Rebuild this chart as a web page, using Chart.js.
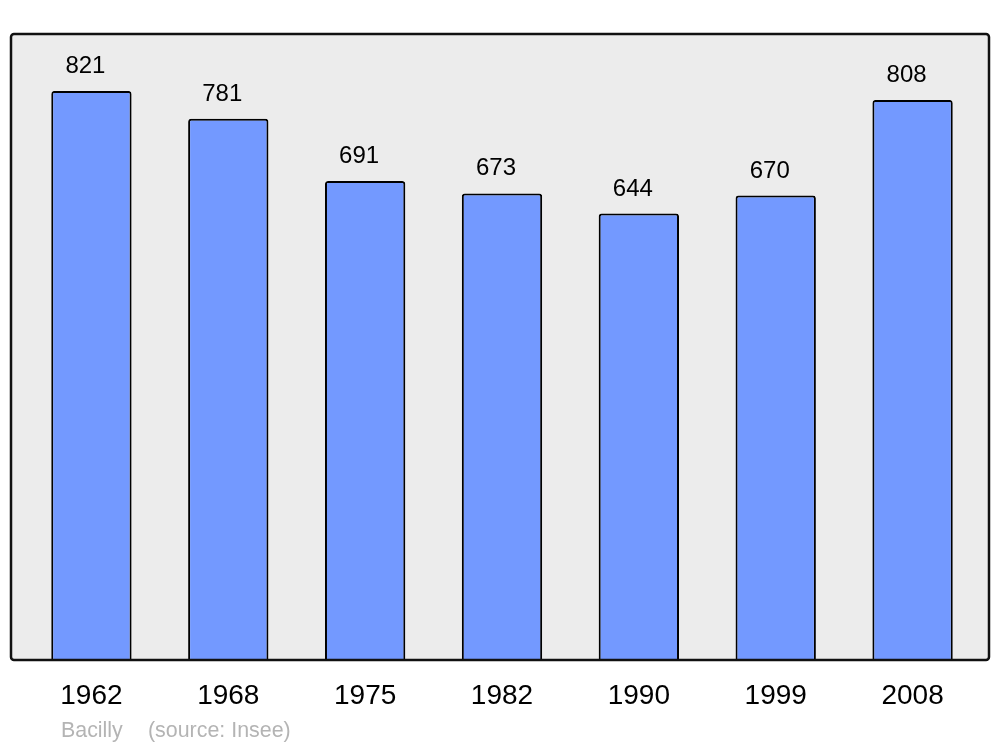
<!DOCTYPE html>
<html><head><meta charset="utf-8">
<script src="https://cdn.jsdelivr.net/npm/chart.js@4/dist/chart.umd.min.js"></script>
<style>html,body{margin:0;padding:0;background:#fff}#wrap{width:1000px;height:747px}</style>
</head><body><div id="wrap"><canvas id="c" width="1000" height="747"></canvas></div>
<script>
const years = ['1962','1968','1975','1982','1990','1999','2008'];
const population = [821, 781, 691, 673, 644, 670, 808];
const commune = 'Bacilly';
const source = '(source: Insee)';

const FONT = '"Liberation Sans", Arial, sans-serif';

const framePlugin = {
  id: 'frame',
  beforeDatasetsDraw(chart) {
    const a = chart.chartArea, ctx = chart.ctx;
    const l = a.left - 12, r = a.right + 8, t = a.top, b = a.bottom;
    ctx.save();
    ctx.beginPath();
    ctx.roundRect(l, t, r - l, b - t, 3);
    ctx.fillStyle = '#ececec';
    ctx.fill();
    ctx.restore();
  },
  afterDatasetsDraw(chart) {
    const a = chart.chartArea, ctx = chart.ctx;
    const l = a.left - 12, r = a.right + 8, t = a.top, b = a.bottom;
    ctx.save();
    ctx.beginPath();
    ctx.roundRect(l, t, r - l, b - t, 3);
    ctx.lineWidth = 2.5;
    ctx.strokeStyle = '#111';
    ctx.stroke();
    // value labels
    const meta = chart.getDatasetMeta(0);
    ctx.fillStyle = '#000';
    ctx.font = '24px ' + FONT;
    ctx.textAlign = 'center';
    ctx.textBaseline = 'alphabetic';
    meta.data.forEach((el, i) => {
      ctx.fillText(String(population[i]), el.x - 6, el.y - 18);
    });
    // footer
    ctx.fillStyle = '#b4b4b4';
    ctx.font = '21.4px ' + FONT;
    ctx.textAlign = 'left';
    ctx.fillText(commune, 61, 737);
    ctx.fillText(source, 148, 737);
    ctx.restore();
  }
};

new Chart(document.getElementById('c'), {
  type: 'bar',
  data: {
    labels: years,
    datasets: [{
      data: population,
      backgroundColor: '#7399ff',
      borderColor: '#000',
      borderWidth: 2,
      borderSkipped: 'bottom',
      borderRadius: 3,
      barPercentage: 0.587,
      categoryPercentage: 1
    }]
  },
  options: {
    responsive: false,
    animation: false,
    devicePixelRatio: 1,
    layout: { padding: { left: 23, right: 19, top: 34, bottom: 0 } },
    plugins: { legend: { display: false }, tooltip: { enabled: false } },
    scales: {
      x: {
        offset: true,
        grid: { display: false, drawTicks: false },
        border: { display: false },
        ticks: { color: '#000', font: { size: 28, family: FONT }, padding: 19, maxRotation: 0 },
        afterFit(s) { s.height = 87; }
      },
      y: {
        display: false,
        min: 0,
        max: Math.max(...population) * 1.1
      }
    }
  },
  plugins: [framePlugin]
});
</script>
</body></html>
